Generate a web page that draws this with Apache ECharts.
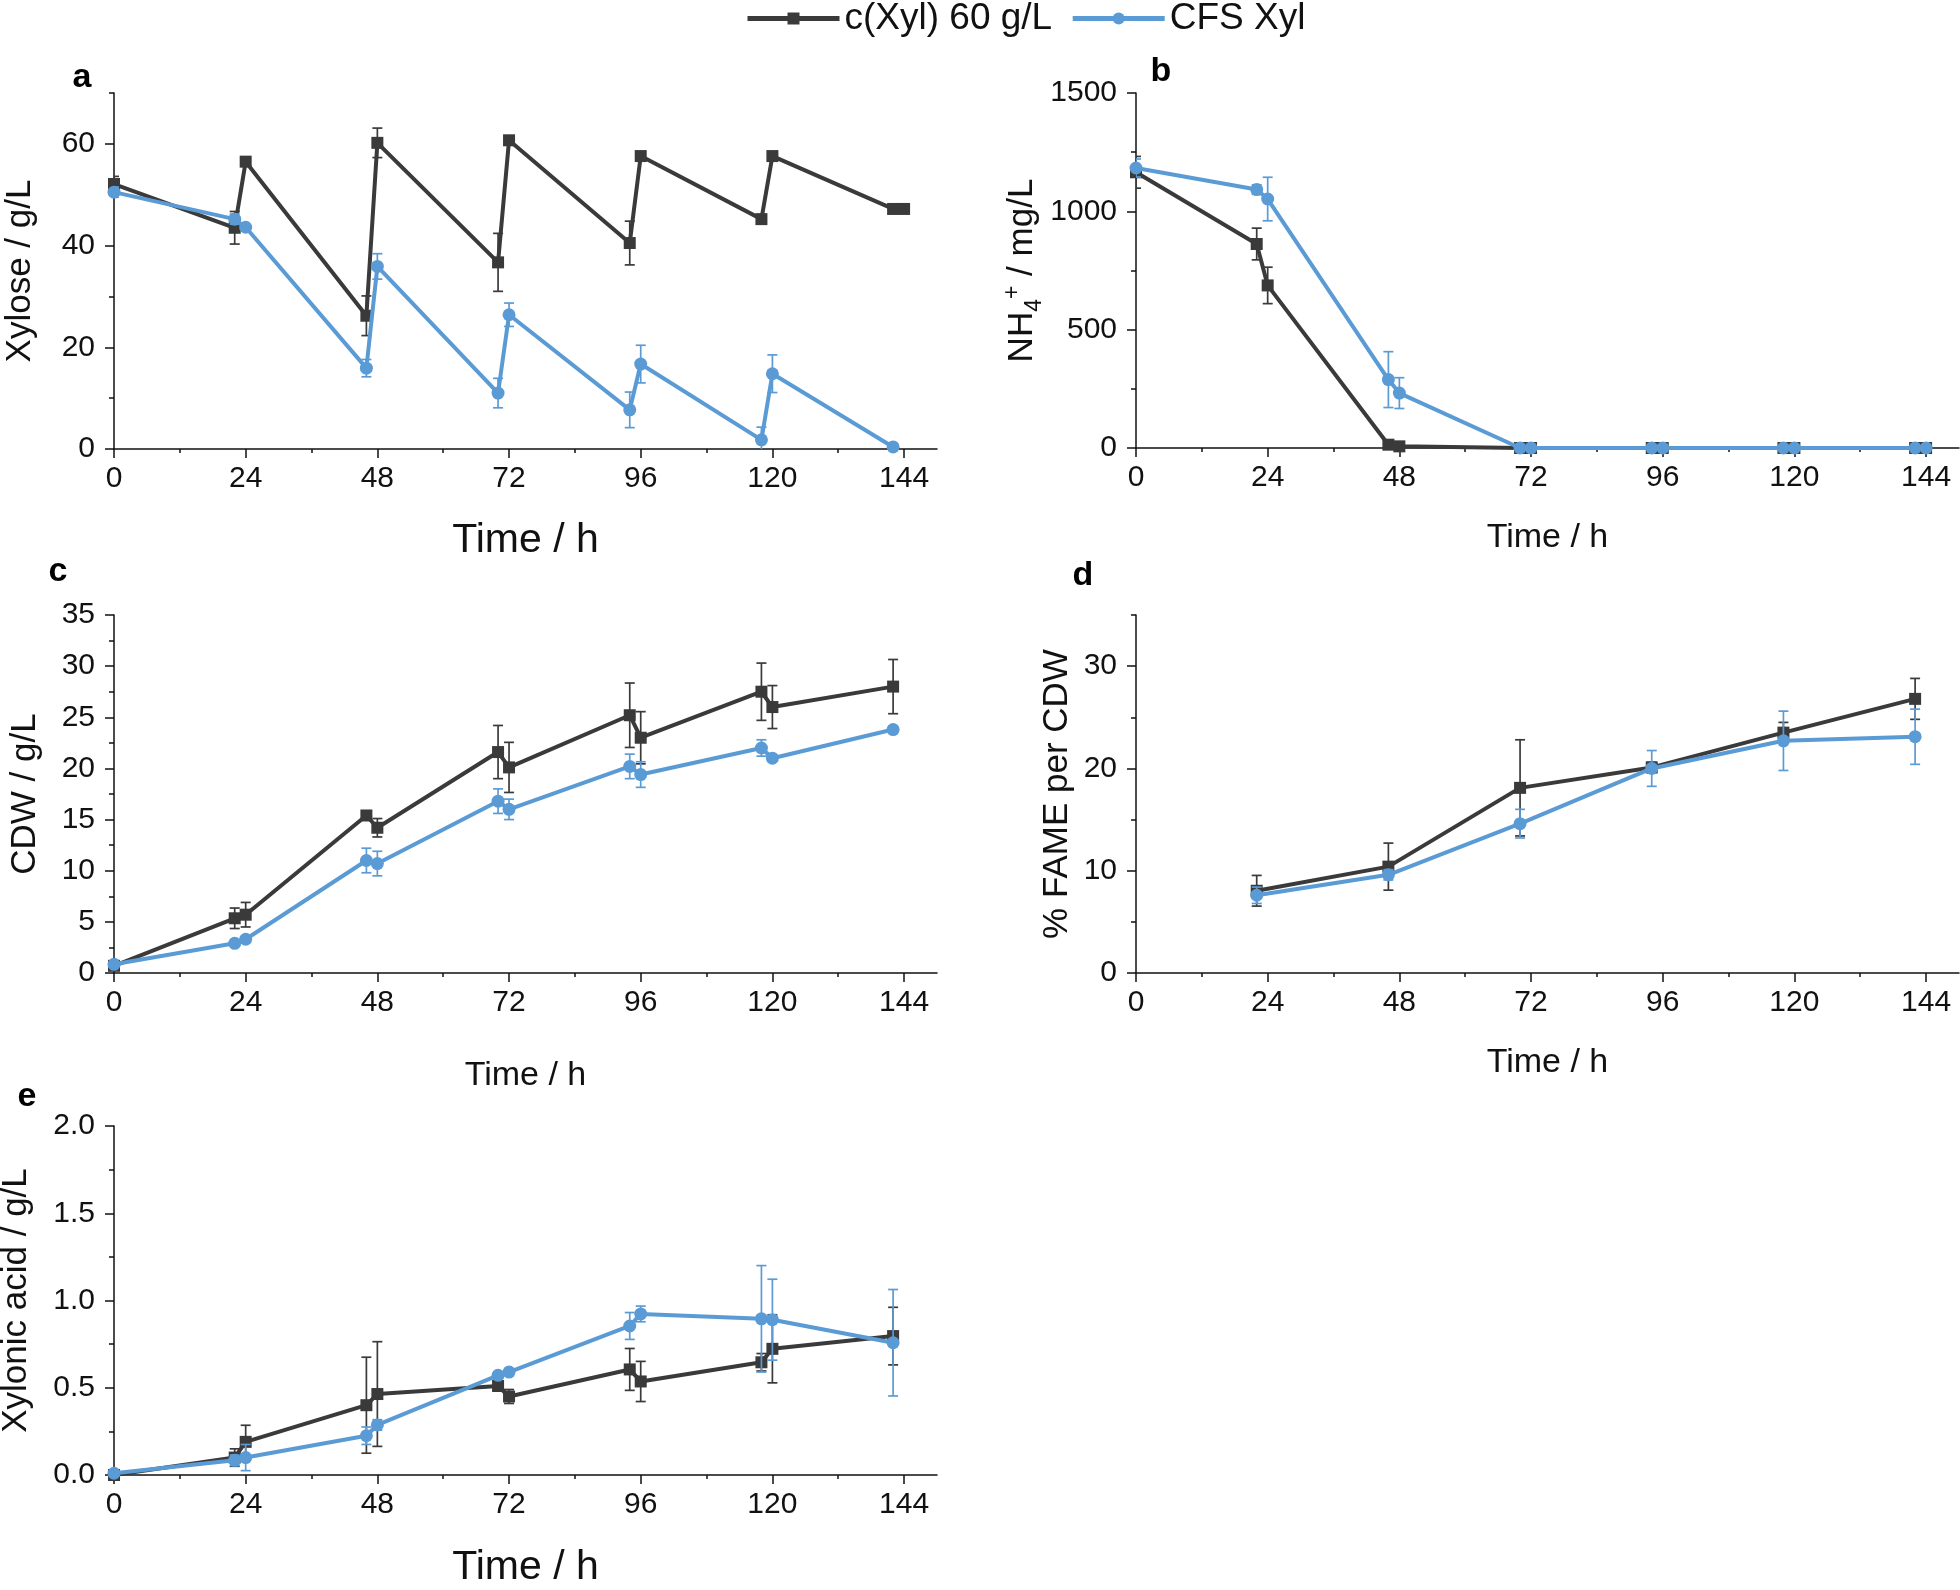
<!DOCTYPE html>
<html><head><meta charset="utf-8">
<script src="https://cdn.jsdelivr.net/npm/echarts@6/dist/echarts.min.js"></script>
<style>html,body{margin:0;padding:0;background:#fff}#c{width:1960px;height:1590px}</style>
</head><body><div id="c"></div>
<script>
// ---------- data ----------
const seriesNames = ['c(Xyl) 60 g/L', 'CFS Xyl'];
const xTickValues = [0, 24, 48, 72, 96, 120, 144];
const xMinorValues = [12, 36, 60, 84, 108, 132];

// a: Xylose / g/L
const xylTimeBlack = [0, 22, 24, 46, 48, 70, 72, 94, 96, 118, 120, 142, 144];
const xylBlack     = [52.1, 43.5, 56.5, 26.2, 60.2, 36.7, 60.7, 40.5, 57.6, 45.2, 57.6, 47.2, 47.2];
const xylBlackErr  = [1.5, 3.2, 0.5, 3.9, 2.9, 5.7, 0.8, 4.3, 0.5, 0.8, 0.6, 0.3, 0.3];
const xylTimeBlue  = [0, 22, 24, 46, 48, 70, 72, 94, 96, 118, 120, 142];
const xylBlue      = [50.5, 45.2, 43.6, 15.9, 35.9, 11.0, 26.4, 7.7, 16.7, 1.8, 14.8, 0.4];
const xylBlueErr   = [1.0, 1.0, 0.3, 1.7, 2.5, 2.9, 2.3, 3.5, 3.7, 2.5, 3.7, 0.3];
const xylYTicks = [0, 20, 40, 60];
const xylYMinor = [10, 30, 50, 70];

// b: NH4+ / mg/L
const nhTime      = [0, 22, 24, 46, 48, 70, 72, 94, 96, 118, 120, 142, 144];
const nhBlack     = [1165, 862, 687, 14, 7, 0, 0, 0, 0, 0, 0, 0, 0];
const nhBlackErr  = [67, 67, 77, 5, 3, 0, 0, 0, 0, 0, 0, 0, 0];
const nhBlue      = [1183, 1092, 1052, 289, 232, 0, 0, 0, 0, 0, 0, 0, 0];
const nhBlueErr   = [38, 20, 92, 118, 65, 6, 6, 6, 6, 6, 6, 6, 6];
const nhYTicks = [0, 500, 1000, 1500];
const nhYMinor = [250, 750, 1250];

// c: CDW / g/L
const cdwTime     = [0, 22, 24, 46, 48, 70, 72, 94, 96, 118, 120, 142];
const cdwBlack    = [0.7, 5.35, 5.7, 15.4, 14.2, 21.6, 20.1, 25.2, 23.0, 27.5, 26.0, 28.0];
const cdwBlackErr = [0.2, 1.0, 1.2, 0.3, 0.9, 2.6, 2.45, 3.15, 2.55, 2.8, 2.1, 2.65];
const cdwBlue     = [0.85, 2.9, 3.3, 11.0, 10.7, 16.8, 16.0, 20.2, 19.4, 22.0, 21.0, 23.8];
const cdwBlueErr  = [0.2, 0.2, 0.3, 1.2, 1.2, 1.2, 1.0, 1.2, 1.25, 0.8, 0.3, 0.3];
const cdwYTicks = [0, 5, 10, 15, 20, 25, 30, 35];
const cdwYMinor = [2.5, 7.5, 12.5, 17.5, 22.5, 27.5, 32.5];

// d: % FAME per CDW
const fameTime     = [22, 46, 70, 94, 118, 142];
const fameBlack    = [8.04, 10.4, 18.1, 20.1, 23.5, 26.8];
const fameBlackErr = [1.5, 2.3, 4.7, 0.5, 1.0, 2.0];
const fameBlue     = [7.6, 9.6, 14.6, 20.0, 22.7, 23.1];
const fameBlueErr  = [0.8, 0.5, 1.4, 1.75, 2.9, 2.7];
const fameYTicks = [0, 10, 20, 30];
const fameYMinor = [5, 15, 25, 35];

// e: Xylonic acid / g/L
const xaTime     = [0, 22, 24, 46, 48, 70, 72, 94, 96, 118, 120, 142];
const xaBlack    = [0.0, 0.10, 0.19, 0.40, 0.464, 0.51, 0.45, 0.605, 0.536, 0.646, 0.723, 0.796];
const xaBlackErr = [0.01, 0.05, 0.095, 0.275, 0.30, 0.02, 0.04, 0.12, 0.115, 0.05, 0.195, 0.165];
const xaBlue     = [0.01, 0.084, 0.10, 0.225, 0.287, 0.571, 0.59, 0.854, 0.923, 0.895, 0.89, 0.758];
const xaBlueErr  = [0.01, 0.03, 0.075, 0.05, 0.03, 0.02, 0.02, 0.077, 0.045, 0.305, 0.232, 0.305];
const xaYTicks = [0, 0.5, 1.0, 1.5, 2.0];
const xaYMinor = [0.25, 0.75, 1.25, 1.75];

// ---------- style / layout ----------
const FONT = '"Liberation Sans", Arial, Helvetica, sans-serif';
const BLACK = '#3a3a3a';
const BLUE = '#5b9bd5';
const AXIS = '#111';

const panels = [
  {grid:{left:114, top:93, width:823, height:356}, yMax:70, yTicks:xylYTicks, yMinor:xylYMinor,
   yName:'Xylose / g/L', yGap:76, xGap:71, xSize:41, letter:'a', lx:82, ly:78,
   bt:xylTimeBlack, bv:xylBlack, be:xylBlackErr, ut:xylTimeBlue, uv:xylBlue, ue:xylBlueErr},
  {grid:{left:1136, top:93, width:823, height:355}, yMax:1500, yTicks:nhYTicks, yMinor:nhYMinor,
   yName:'{n|NH}{sub|4}{sup|+}{n| / mg/L}', yGap:96, xGap:73, xSize:34, letter:'b', lx:1161, ly:72,
   bt:nhTime, bv:nhBlack, be:nhBlackErr, ut:nhTime, uv:nhBlue, ue:nhBlueErr},
  {grid:{left:114, top:615, width:823, height:358}, yMax:35, yTicks:cdwYTicks, yMinor:cdwYMinor,
   yName:'CDW / g/L', yGap:71, xGap:86, xSize:34, letter:'c', lx:58, ly:572,
   bt:cdwTime, bv:cdwBlack, be:cdwBlackErr, ut:cdwTime, uv:cdwBlue, ue:cdwBlueErr},
  {grid:{left:1136, top:615, width:823, height:358}, yMax:35, yTicks:fameYTicks, yMinor:fameYMinor,
   yName:'% FAME per CDW', yGap:61, xGap:73, xSize:34, letter:'d', lx:1083, ly:576,
   bt:fameTime, bv:fameBlack, be:fameBlackErr, ut:fameTime, uv:fameBlue, ue:fameBlueErr},
  {grid:{left:114, top:1126, width:823, height:349}, yMax:2, yTicks:xaYTicks, yMinor:xaYMinor,
   yName:'Xylonic acid / g/L', yGap:80, xGap:72, xSize:41, letter:'e', lx:27, ly:1097, fixed:1,
   bt:xaTime, bv:xaBlack, be:xaBlackErr, ut:xaTime, uv:xaBlue, ue:xaBlueErr}
];

const lineStyle = {color: AXIS, width: 1.5};
const grids = [], xAxes = [], yAxes = [], series = [], graphics = [];

function errSeries(idx, tag, t, v, e, color, z) {
  return {
    type: 'custom', name: 'err-' + tag + '-' + idx, xAxisIndex: 2*idx, yAxisIndex: 2*idx, clip: true, z: z,
    silent: true, itemStyle: {color: color},
    data: t.map((tt, k) => [tt, v[k] - e[k], v[k] + e[k]]),
    encode: {x: 0, y: [1, 2]},
    renderItem: function (params, api) {
      const x = api.value(0);
      const p1 = api.coord([x, api.value(2)]);
      const p2 = api.coord([x, api.value(1)]);
      const w = 5;
      const st = {stroke: color, lineWidth: 1.7, fill: null};
      return {type: 'group', children: [
        {type: 'line', shape: {x1: p1[0], y1: p1[1], x2: p2[0], y2: p2[1]}, style: st},
        {type: 'line', shape: {x1: p1[0]-w, y1: p1[1], x2: p1[0]+w, y2: p1[1]}, style: st},
        {type: 'line', shape: {x1: p2[0]-w, y1: p2[1], x2: p2[0]+w, y2: p2[1]}, style: st}
      ]};
    }
  };
}

panels.forEach((p, i) => {
  grids.push(Object.assign({containLabel: false, outerBoundsMode: 'none'}, p.grid));
  xAxes.push({
    type: 'value', gridIndex: i, min: 0, max: 150, interval: 24, position: 'bottom',
    name: 'Time / h', nameLocation: 'middle', nameGap: p.xGap, nameMoveOverlap: false,
    nameTextStyle: {fontFamily: FONT, fontSize: p.xSize, color: '#111', verticalAlign: 'top'},
    axisLine: {show: true, onZero: false, lineStyle: lineStyle},
    axisTick: {show: true, customValues: xTickValues, length: 9, inside: false, lineStyle: lineStyle},
    axisLabel: {show: true, customValues: xTickValues, fontFamily: FONT, fontSize: 30, color: '#111', margin: 15,
      showMinLabel: true, showMaxLabel: true, hideOverlap: false},
    splitLine: {show: false}, minorTick: {show: false}
  });
  xAxes.push({
    type: 'value', gridIndex: i, min: 0, max: 150, interval: 24, position: 'bottom',
    axisLine: {show: false}, axisLabel: {show: false}, splitLine: {show: false},
    axisTick: {show: true, customValues: xMinorValues, length: 4, lineStyle: lineStyle}
  });
  const fmt = p.fixed ? (v => v.toFixed(p.fixed)) : (v => String(v));
  const yNameStyle = {fontFamily: FONT, fontSize: 35, color: '#111'};
  if (i === 1) {
    yNameStyle.rich = {
      n: {fontFamily: FONT, fontSize: 35, color: '#111'},
      sub: {fontFamily: FONT, fontSize: 23, color: '#111', verticalAlign: 'bottom', padding: [0, 0, -6, 0]},
      sup: {fontFamily: FONT, fontSize: 23, color: '#111', verticalAlign: 'top', padding: [-4, 0, 0, 0]}
    };
  }
  yAxes.push({
    type: 'value', gridIndex: i, min: 0, max: p.yMax, position: 'left',
    name: p.yName, nameLocation: 'middle', nameRotate: 90, nameGap: p.yGap, nameMoveOverlap: false,
    nameTextStyle: yNameStyle,
    axisLine: {show: true, onZero: false, lineStyle: lineStyle},
    axisTick: {show: true, customValues: p.yTicks, length: 9, lineStyle: lineStyle},
    axisLabel: {show: true, customValues: p.yTicks, formatter: fmt, fontFamily: FONT, fontSize: 30, color: '#111', margin: 19,
      showMinLabel: true, showMaxLabel: true, hideOverlap: false},
    splitLine: {show: false}, minorTick: {show: false}
  });
  yAxes.push({
    type: 'value', gridIndex: i, min: 0, max: p.yMax, position: 'left',
    axisLine: {show: false}, axisLabel: {show: false}, splitLine: {show: false},
    axisTick: {show: true, customValues: p.yMinor, length: 5, lineStyle: lineStyle}
  });

  series.push({
    type: 'line', name: seriesNames[0], xAxisIndex: 2*i, yAxisIndex: 2*i, z: 3,
    data: p.bt.map((t, k) => [t, p.bv[k]]),
    symbol: 'rect', symbolSize: 12, showAllSymbol: true,
    lineStyle: {color: BLACK, width: 4}, itemStyle: {color: BLACK},
    emphasis: {disabled: true}, animation: false
  });
  series.push(errSeries(i, 'black', p.bt, p.bv, p.be, BLACK, 2));
  series.push({
    type: 'line', name: seriesNames[1], xAxisIndex: 2*i, yAxisIndex: 2*i, z: 5,
    data: p.ut.map((t, k) => [t, p.uv[k]]),
    symbol: 'circle', symbolSize: 13, showAllSymbol: true,
    lineStyle: {color: BLUE, width: 4}, itemStyle: {color: BLUE},
    emphasis: {disabled: true}, animation: false
  });
  series.push(errSeries(i, 'blue', p.ut, p.uv, p.ue, BLUE, 4));

  graphics.push({
    type: 'text', x: p.lx, y: p.ly, silent: true,
    style: {text: p.letter, fontFamily: FONT, fontSize: 34, fontWeight: 'bold', fill: '#000',
      align: 'center', verticalAlign: 'middle'}
  });
});

const chart = echarts.init(document.getElementById('c'), null, {renderer: 'canvas'});
chart.setOption({
  backgroundColor: '#fff',
  animation: false,
  textStyle: {fontFamily: FONT},
  legend: {
    show: true, left: 745, top: 0, padding: 0, orient: 'horizontal', selectedMode: false,
    data: seriesNames, itemWidth: 92, itemHeight: 15, itemGap: 18,
    lineStyle: {width: 5},
    textStyle: {fontFamily: FONT, fontSize: 37, color: '#111'}
  },
  tooltip: {show: false},
  grid: grids, xAxis: xAxes, yAxis: yAxes, series: series, graphic: graphics
});
</script></body></html>
